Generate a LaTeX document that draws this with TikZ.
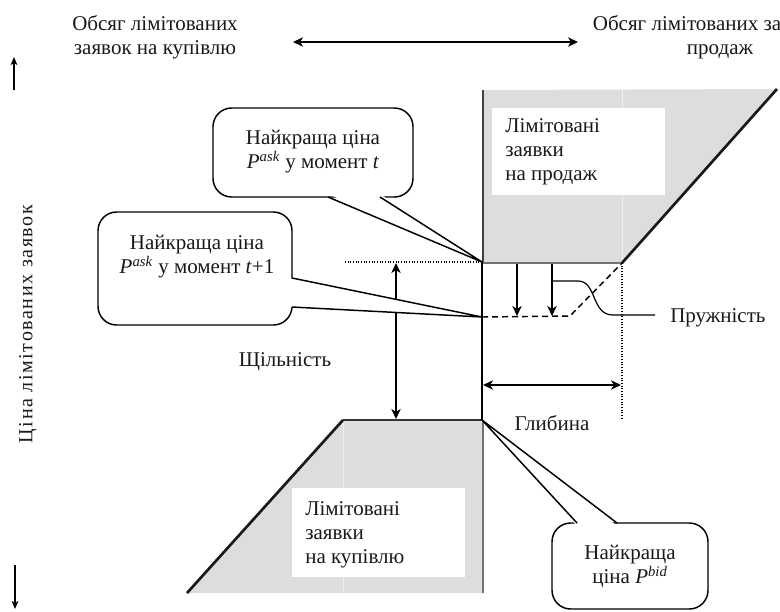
\documentclass[tikz,border=0pt]{standalone}
\usepackage{fontspec}
\setmainfont{Liberation Serif}
\newfontfamily\spacedfont[LetterSpace=8]{Liberation Serif}
\usetikzlibrary{arrows.meta}
\begin{document}
\begin{tikzpicture}[x=0.75pt,y=-0.75pt,
  txt/.style={font=\fontsize{15.75}{18}\selectfont, inner sep=0pt, text=black!90},
  ar/.style={line width=1.3pt, -{Stealth[length=7.5pt,width=7pt,inset=2.2pt]}},
  dar/.style={line width=1.3pt, {Stealth[length=7.5pt,width=7pt,inset=2.2pt]}-{Stealth[length=7.5pt,width=7pt,inset=2.2pt]}},
  thinar/.style={line width=0.8pt, -{Stealth[length=6pt,width=5pt,inset=1.5pt]}},
  callout/.style={draw, fill=white, line width=1.1pt, rounded corners=14pt, inner sep=0pt},
  whitebox/.style={fill=white, inner sep=0pt, minimum width=129.75pt, minimum height=65.25pt},
  dotline/.style={line width=0.8pt, dash pattern=on 0.8pt off 1.2pt},
  dashline/.style={line width=1.1pt, dash pattern=on 4.5pt off 3pt},
  ptr/.style={line width=1.1pt},
]
\useasboundingbox (0,0) rectangle (780,611);
% key points
\coordinate (askT) at (482,262);
\coordinate (askT1) at (482,317);
\coordinate (bid) at (482,420);
\coordinate (sellTL) at (483,90);
\coordinate (sellBL) at (483,263);
\coordinate (sellBR) at (622,263);
\coordinate (sellTR) at (777,89);
\coordinate (buyTL) at (343,420);
\coordinate (buyTR) at (483,420);
\coordinate (buyBR) at (483,593);
\coordinate (buyBL) at (187,593);

% regions
\fill[gray!27] (sellTL) -- (sellTR) -- (sellBR) -- (sellBL) -- cycle;
\fill[gray!27] (buyTL) -- (buyTR) -- (buyBR) -- (buyBL) -- cycle;
\draw[gray!12, line width=0.6pt] (622,90) -- (sellBR);
\draw[gray!12, line width=0.6pt] (buyTL) -- (343,593);
\draw[line width=2.2pt, black!75] (sellTL) -- (sellBL);
\draw[line width=2.2pt, black!55] (sellBL) -- (sellBR);
\draw[line width=2pt, black!90] (sellBR) -- (sellTR);
\draw[line width=2.2pt, black!80] (buyTL) -- (buyTR);
\draw[line width=2pt, black!90] (buyTL) -- (buyBL);
\draw[line width=2.2pt, black!55] (buyTR) -- (buyBR);

% white label boxes
\node[whitebox] (sellbox) at (578.5,151.5) {};
\node[txt, anchor=west, align=left] (selltxt) at (505,152) {Лімітовані\\заявки\\на продаж};
\node[whitebox, minimum height=66.75pt] (buybox) at (378.5,532.5) {};
\node[txt, anchor=west, align=left] (buytxt) at (305,535) {Лімітовані\\заявки\\на купівлю};

% thin spread line
\draw[line width=0.9pt] (askT) -- (bid);

% dotted guides
\coordinate (dotL) at (345,262);
\draw[dotline] (dotL) -- (askT);
\coordinate (depthB) at (622,418);
\draw[dotline] (sellBR) -- (depthB);

% dashed new ask
\coordinate (dashK) at (570,316);
\draw[dashline] (askT1) -- (dashK) -- (sellBR);

% down arrows (elasticity)
\coordinate (d1t) at (517,264); \coordinate (d1b) at (517,316);
\coordinate (d2t) at (552,264); \coordinate (d2b) at (552,316);
\draw[ar] (d1t) -- (d1b);
\draw[ar] (d2t) -- (d2b);

% density arrow
\coordinate (denT) at (396,263); \coordinate (denB) at (396,419);
\draw[dar] (denT) -- (denB);

% depth arrow
\coordinate (depL) at (483,385); \coordinate (depR) at (621,385);
\draw[dar] (depL) -- (depR);

% elasticity pointer curve
\node[txt, anchor=west] (elast) at (670,318) {Пружність};
\coordinate (cvS) at (552,281);
\coordinate (cvE) at (655,315);
\draw[line width=0.9pt] (cvS) -- (578,281) .. controls (597,281) and (591,315) .. (613,315) -- (cvE);

% top labels and arrows
\node[txt, align=center] (lefttitle) at (155,37) {Обсяг лімітованих\\заявок на купівлю};
\node[txt, align=center] (righttitle) at (720,37) {Обсяг лімітованих заявок на\\продаж};
\coordinate (hL) at (293,42); \coordinate (hR) at (578,42);
\draw[dar] (hL) -- (hR);
\coordinate (upB) at (14,90); \coordinate (upT) at (14,57);
\draw[thinar] (upB) -- (upT);
\coordinate (dnT) at (15,565); \coordinate (dnB) at (15,609);
\draw[thinar] (dnT) -- (dnB);
\node[txt, rotate=90, font=\spacedfont\fontsize{15}{18}\selectfont] (yaxis) at (28,324) {Ціна лімітованих заявок};

\node[txt] (dens) at (285,362) {Щільність};
\node[txt] (depth) at (552,423) {Глибина};

% callout 1
\node[callout, minimum width=150pt, minimum height=66.75pt] (c1) at (313,152.5) {};
\fill[white] (328,194) -- (askT) -- (380,194) -- cycle;
\draw[ptr] (328,197) -- (askT) -- (380,197);
\node[txt, align=center] (c1t) at (313,152) {Найкраща ціна\\\textit{P}\textsuperscript{\textit{ask}} у момент \textit{t}};

% callout 2
\node[callout, minimum width=145.5pt, minimum height=84.75pt] (c2) at (195,268.5) {};
\fill[white] (289,278) -- (askT1) -- (289,307) -- cycle;
\draw[ptr] (292,278) -- (askT1) -- (292,307);
\node[txt, align=center] (c2t) at (197,257) {Найкраща ціна\\\textit{P}\textsuperscript{\textit{ask}} у момент \textit{t}+1};

% callout 3
\node[callout, minimum width=117pt, minimum height=64.5pt] (c3) at (630,566) {};
\fill[white] (577,526) -- (bid) -- (617,526) -- cycle;
\draw[ptr] (577,523) -- (bid) -- (617,523);
\node[txt, align=center] (c3t) at (630,566) {Найкраща\\ціна \textit{P}\textsuperscript{\textit{bid}}};
\end{tikzpicture}
\end{document}
